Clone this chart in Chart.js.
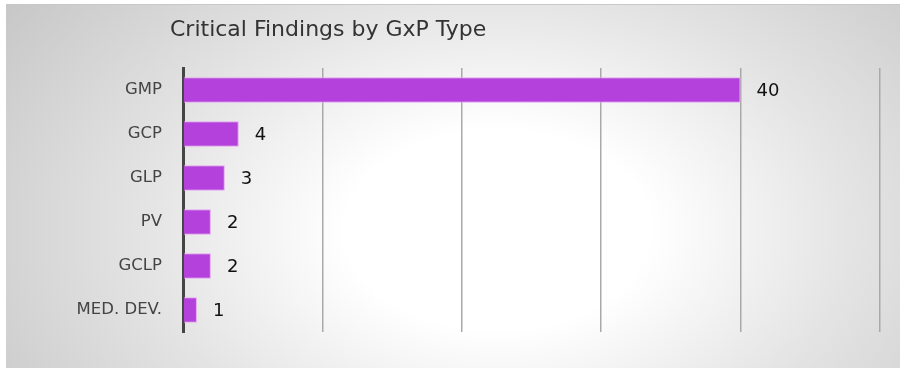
<!DOCTYPE html>
<html>
<head>
<meta charset="utf-8">
<script src="https://cdn.jsdelivr.net/npm/chart.js@4.4.1/dist/chart.umd.min.js"></script>
<style>
  html, body { margin: 0; padding: 0; background: #fff; }
  #painel {
    position: absolute; left: 6px; top: 4px; width: 894px; height: 364px;
    background: radial-gradient(ellipse 68% 110% at 55% 62%, #ffffff 25%, #e4e4e4 58%, #c6c6c6 100%);
    border-top: 1px solid #c8c8c8;
    box-sizing: border-box;
  }
  #grafico { display: block; }
</style>
</head>
<body>
<div id="painel"><canvas id="grafico" width="894" height="363"></canvas></div>
<script>
// dados do gráfico
const categorias = ["GMP", "GCP", "GLP", "PV", "GCLP", "MED. DEV."];
const achadosCriticos = [40, 4, 3, 2, 2, 1];
const tituloGrafico = "Critical Findings by GxP Type";

const fonteBase = "'DejaVu Sans', sans-serif";

// título e rótulos de valor
const pluginTextos = {
    id: 'textos',
    afterDraw(chart) {
        const ctx = chart.ctx;
        ctx.save();
        ctx.fillStyle = '#333';
        ctx.font = "22px " + fonteBase;
        ctx.textBaseline = 'middle';
        ctx.textAlign = 'left';
        ctx.fillText(tituloGrafico, 164, 25);

        ctx.fillStyle = '#111';
        ctx.font = "18px " + fonteBase;
        const meta = chart.getDatasetMeta(0);
        meta.data.forEach((barra, i) => {
            ctx.fillText(String(achadosCriticos[i]), barra.x + 16, barra.y + 1);
        });
        ctx.restore();
    }
};

new Chart(document.getElementById('grafico'), {
    type: 'bar',
    data: {
        labels: categorias,
        datasets: [{
            data: achadosCriticos,
            backgroundColor: '#b541dc',
            borderColor: '#e3a6f0',
            borderWidth: 1,
            barPercentage: 0.58,
            categoryPercentage: 1
        }]
    },
    options: {
        indexAxis: 'y',
        responsive: false,
        animation: false,
        layout: { padding: { left: 0, right: 20, top: 63, bottom: 36 } },
        plugins: { legend: { display: false }, tooltip: { enabled: false } },
        scales: {
            x: {
                min: 0, max: 50,
                ticks: { display: false, stepSize: 10 },
                grid: { color: '#a9a9a9', lineWidth: 1.5, drawTicks: false },
                border: { display: false }
            },
            y: {
                afterFit(scale) { scale.width = 177; },
                ticks: { color: '#444', font: { size: 16.5, family: fonteBase }, padding: 21 },
                grid: { display: false, drawTicks: false },
                border: { color: '#444', width: 3 }
            }
        }
    },
    plugins: [pluginTextos]
});
</script>
</body>
</html>
